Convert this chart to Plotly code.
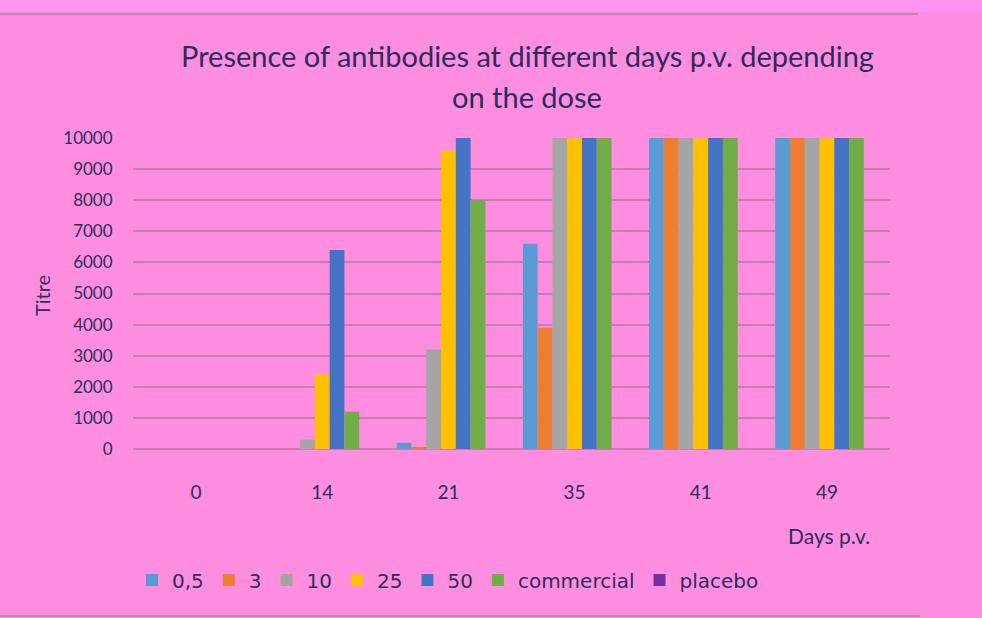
import plotly.graph_objects as go

days = ["0", "14", "21", "35", "41", "49"]
series_names = ["0,5", "3", "10", "25", "50", "commercial", "placebo"]
series_colors = ["#5B9BD5", "#ED7D31", "#A5A5A5", "#FFC000", "#4472C4", "#70AD47", "#7030A0"]

dose_05 = [0, 0, 200, 6600, 10000, 10000]
dose_3 = [0, 0, 50, 3900, 10000, 10000]
dose_10 = [0, 300, 3200, 10000, 10000, 10000]
dose_25 = [0, 2400, 9600, 10000, 10000, 10000]
dose_50 = [0, 6400, 10000, 10000, 10000, 10000]
commercial = [0, 1200, 8000, 10000, 10000, 10000]
placebo = [0, 0, 0, 0, 0, 0]
series_values = [dose_05, dose_3, dose_10, dose_25, dose_50, commercial, placebo]

y_ticks = list(range(0, 10001, 1000))
y_tick_labels = [str(v) for v in y_ticks]

W, H = 982, 618
L, R, T, B = 133, 890, 138, 449
TEXT = "#2A2D5C"
FONT = "Lato"

fig = go.Figure()
for name, vals, col in zip(series_names, series_values, series_colors):
    fig.add_trace(go.Bar(x=days, y=vals, name=name, marker=dict(color=col, line=dict(width=0))))

def px(X):
    return (X - L) / (R - L)

def py(Y):
    return (B - Y) / (B - T)

fig.update_layout(
    width=W, height=H,
    margin=dict(l=L, r=W - R, t=T, b=H - B, pad=0),
    paper_bgcolor="#FF8DE0",
    plot_bgcolor="#FF8DE0",
    barmode="group",
    bargap=0.18,
    bargroupgap=0,
    font=dict(family=FONT, color=TEXT, size=14),
    showlegend=True,
    legend=dict(orientation="h", xref="container", yref="container",
                x=132 / W, y=1 - 580 / H, xanchor="left", yanchor="middle",
                font=dict(size=20, color=TEXT, family="DejaVu Sans"), bgcolor="rgba(0,0,0,0)",
                itemwidth=30, traceorder="normal"),
    xaxis=dict(type="category", showgrid=False, zeroline=False, showline=False,
               ticks="outside", ticklen=26, tickcolor="rgba(0,0,0,0)",
               tickfont=dict(size=19, color=TEXT)),
    yaxis=dict(range=[0, 10000], tickvals=y_ticks, ticktext=y_tick_labels, showgrid=True,
               gridcolor="#C77DB5", gridwidth=2, zeroline=True, zerolinecolor="#C77DB5",
               zerolinewidth=2, showline=False, ticks="outside", ticklen=16,
               tickcolor="rgba(0,0,0,0)", tickfont=dict(size=17, color=TEXT)),
    shapes=[
        dict(type="rect", xref="paper", yref="paper", x0=px(0), x1=px(W), y0=py(0), y1=py(12),
             fillcolor="#FF93F2", line=dict(width=0), layer="below"),
        dict(type="line", xref="paper", yref="paper", x0=px(0), x1=px(918), y0=py(14), y1=py(14),
             line=dict(color="#B98AB0", width=2)),
        dict(type="line", xref="paper", yref="paper", x0=px(0), x1=px(920), y0=py(616), y1=py(616),
             line=dict(color="#B98AB0", width=2)),
    ],
    annotations=[
        dict(text="Presence of antibodies at different days p.v. depending", xref="paper", yref="paper",
             x=px(527), y=py(55), showarrow=False, font=dict(size=29, color=TEXT), xanchor="center", yanchor="middle"),
        dict(text="on the dose", xref="paper", yref="paper",
             x=px(527), y=py(96), showarrow=False, font=dict(size=29, color=TEXT), xanchor="center", yanchor="middle"),
        dict(text="Titre", xref="paper", yref="paper", x=px(42), y=py(296), showarrow=False,
             textangle=-90, font=dict(size=20, color=TEXT), xanchor="center", yanchor="middle"),
        dict(text="Days p.v.", xref="paper", yref="paper", x=px(829), y=py(535), showarrow=False,
             font=dict(size=21, color=TEXT), xanchor="center", yanchor="middle"),
    ],
)

fig.write_html("out.html", config={"displayModeBar": False},
               post_script="document.body.style.margin='0';document.body.style.overflow='hidden';")
